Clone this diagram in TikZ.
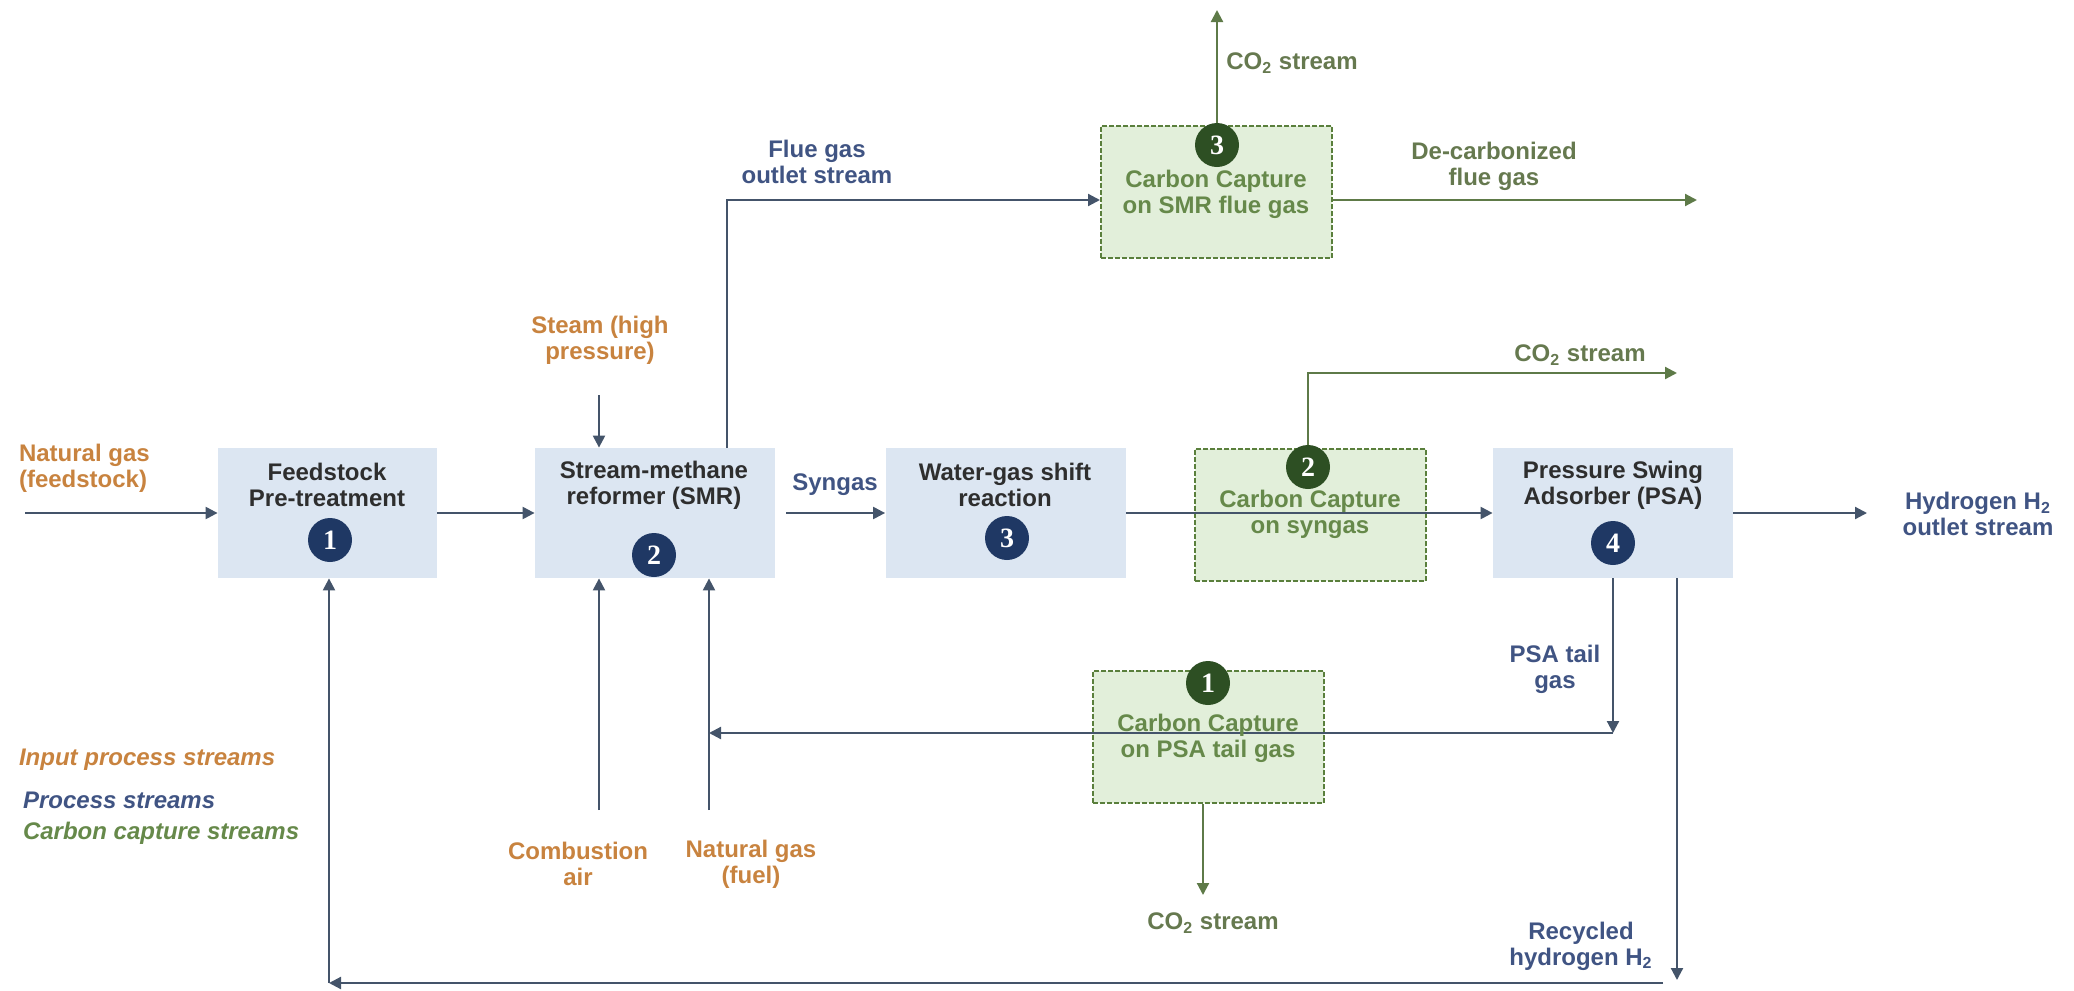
\documentclass[tikz,border=0pt]{standalone}
\usepackage{fontspec}
\setmainfont{Liberation Sans}
\newfontfamily\numfont{Liberation Serif}
\usetikzlibrary{arrows.meta}

\definecolor{boxblue}{HTML}{DCE6F2}
\definecolor{boxink}{HTML}{2E2E2E}
\definecolor{navy}{HTML}{1F3864}
\definecolor{capfill}{HTML}{E2EFDA}
\definecolor{capedge}{HTML}{5A7F3C}
\definecolor{capdark}{HTML}{2D4F23}
\definecolor{capink}{HTML}{66894A}
\definecolor{capgray}{HTML}{66794F}
\definecolor{capstroke}{HTML}{5E7A48}
\definecolor{inorange}{HTML}{C8833F}
\definecolor{procink}{HTML}{405483}
\definecolor{procline}{HTML}{44546A}

\newcommand\lblfont{\fontsize{12}{13}\selectfont\bfseries}
\newcommand\legfont{\fontsize{12}{13}\selectfont\bfseries\itshape}

\tikzset{
  procbox/.style={fill=boxblue, minimum width=120pt, minimum height=65pt, inner sep=0pt},
  capbox/.style={fill=capfill, draw=capedge, line width=1pt, dash pattern=on 2.5pt off 1pt,
    minimum width=115.5pt, minimum height=66pt, inner sep=0pt},
  boxtext/.style={text=boxink, font=\lblfont, align=center},
  captext/.style={text=capink, font=\lblfont, align=center},
  numdot/.style={circle, fill=navy, text=white, font=\numfont\fontsize{14}{14}\selectfont\bfseries,
    minimum size=22pt, inner sep=0pt},
  gnumdot/.style={numdot, fill=capdark},
  inlabel/.style={text=inorange, font=\lblfont, align=center},
  proclabel/.style={text=procink, font=\lblfont, align=center},
  caplabel/.style={text=capgray, font=\lblfont, align=center},
  legend/.style={anchor=west, font=\legfont},
  proc/.style={draw=procline, line width=1.1pt, -{Triangle[length=6pt,width=6pt]}},
  capstream/.style={draw=capstroke, line width=1.1pt, -{Triangle[length=6pt,width=6pt]}}
}

\begin{document}
\begin{tikzpicture}[x=0.5pt,y=-0.5pt]
\useasboundingbox (0,0) rectangle (2074,991);

% process units
\node[procbox, minimum width=109.5pt] (feed) at (327.5,513) {};
\node[procbox] (smr) at (655,513) {};
\node[procbox] (wgs) at (1005.5,513) {};
\node[procbox] (psa) at (1613,513) {};
% carbon capture units
\node[capbox] (ccflue) at (1216.5,192) {};
\node[capbox] (ccsyn) at (1310.5,515) {};
\node[capbox] (cctail) at (1208.5,737) {};

% free ends of the streams
\coordinate (ngin) at (25,513);
\coordinate (steamin) at (599,395);
\coordinate (airin) at (599,810);
\coordinate (fuelin) at (709,810);
\coordinate (flue) at (727,200);
\coordinate (h2out) at (1867,513);
\coordinate (tail) at (1613,733);
\coordinate (co2top) at (1217,10);
\coordinate (decarb) at (1697,200);
\coordinate (co2syn) at (1677,373);
\coordinate (co2tail) at (1203,895);
\coordinate (recyc) at (1677,980);
\coordinate (recycl) at (1663,983);
\coordinate (recycc) at (329,983);

% process streams
\draw[proc] (ngin) -- (feed);
\draw[proc] (feed) -- (smr);
\draw[proc, shorten <=5.5pt] (smr) -- (wgs);
\draw[proc] (wgs) -- (psa);
\draw[proc] (psa) -- (h2out);
\draw[proc] (steamin) -- (steamin |- smr.north);
\draw[proc] (airin) -- (airin |- smr.south);
\draw[proc] (fuelin) -- (fuelin |- smr.south);
\draw[proc] (flue |- smr.north) -- (flue) -- (flue -| ccflue.west);
\draw[proc] (psa.south -| tail) -- (tail);
\draw[proc] (tail) -- (tail -| fuelin);
\draw[proc] (recyc |- psa.south) -- (recyc);
\draw[proc] (recycl) -- (recycc);
\draw[proc] (recycc) -- (recycc |- feed.south);

% numbers
\node[numdot] (n1) at (330,540) {1};
\node[numdot] (n2) at (654,555) {2};
\node[numdot] (n3) at (1007,538) {3};
\node[numdot] (n4) at (1613,543) {4};
\node[gnumdot] (g3) at (1217,145) {3};
\node[gnumdot] (g2) at (1308,467) {2};
\node[gnumdot] (g1) at (1208,683) {1};

% carbon capture streams
\draw[capstream] (g3) -- (co2top);
\draw[capstream] (ccflue.east |- decarb) -- (decarb);
\draw[capstream] (g2) |- (co2syn);
\draw[capstream] (cctail.south -| co2tail) -- (co2tail);

% unit texts
\node[boxtext] (feedt) at (327,485) {Feedstock\\Pre-treatment};
\node[boxtext] (smrt) at (654,485) {Stream-methane\\reformer (SMR)};
\node[boxtext] (wgst) at (1005,485) {Water-gas shift\\reaction};
\node[boxtext] (psat) at (1613,485) {Pressure Swing\\Adsorber (PSA)};
\node[captext] (cfluet) at (1216,194) {Carbon Capture\\on SMR flue gas};
\node[captext] (csynt) at (1310,514) {Carbon Capture\\on syngas};
\node[captext] (ctailt) at (1208,738) {Carbon Capture\\on PSA tail gas};

% stream labels
\node[inlabel, anchor=west, align=left] (nglbl) at (12,468) {Natural gas\\(feedstock)};
\node[inlabel] (steamlbl) at (600,340) {Steam (high\\pressure)};
\node[inlabel] (airlbl) at (578,864) {Combustion\\air};
\node[inlabel] (fuellbl) at (751,864) {Natural gas\\(fuel)};
\node[proclabel] (syngaslbl) at (835,485) {Syngas};
\node[proclabel] (fluelbl) at (817,162) {Flue gas\\outlet stream};
\node[proclabel] (h2lbl) at (1978,514) {Hydrogen H\textsubscript{2}\\outlet stream};
\node[proclabel] (taillbl) at (1555,669) {PSA tail\\gas};
\node[proclabel] (recyclbl) at (1581,946) {Recycled\\hydrogen H\textsubscript{2}};
\node[caplabel] (co2a) at (1292,63) {CO\textsubscript{2} stream};
\node[caplabel] (co2b) at (1580,355) {CO\textsubscript{2} stream};
\node[caplabel] (co2c) at (1213,923) {CO\textsubscript{2} stream};
\node[caplabel] (decarblbl) at (1494,166) {De-carbonized\\flue gas};

% legend
\node[legend, text=inorange] (leg1) at (12,760) {Input process streams};
\node[legend, text=procink] (leg2) at (16,800) {Process streams};
\node[legend, text=capink] (leg3) at (16,833) {Carbon capture streams};
\end{tikzpicture}
\end{document}
